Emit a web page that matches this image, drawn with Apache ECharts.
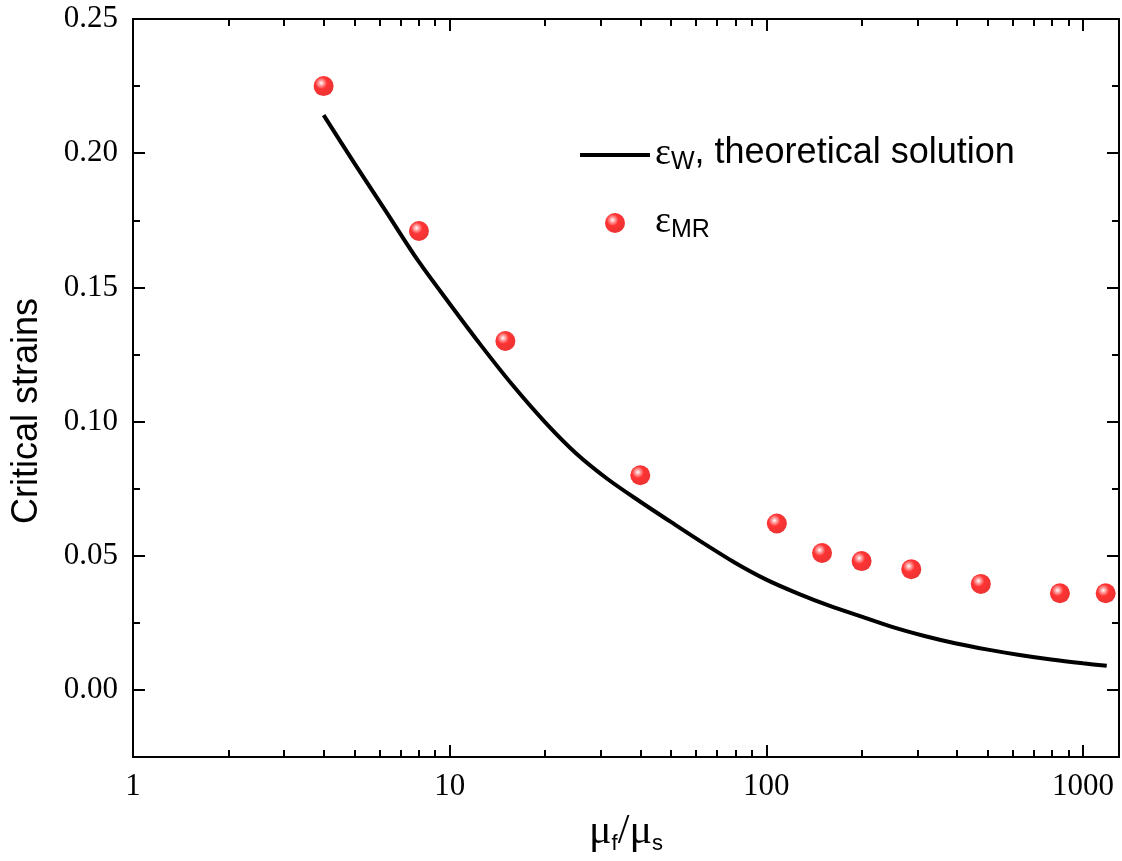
<!DOCTYPE html>
<html>
<head>
<meta charset="utf-8">
<script src="https://cdn.jsdelivr.net/npm/echarts@6/dist/echarts.min.js"></script>
<style>
html,body{margin:0;padding:0;background:#fff;}
#chart{width:1122px;height:861px;}
</style>
</head>
<body>
<div id="chart"></div>
<script>
// ---- data ----
const lineX = [4, 5, 6.3, 7.9, 10, 12.6, 15.8, 20, 25.1, 31.6, 39.8, 50.1, 63.1, 79.4, 100, 126, 158, 200, 251, 316, 398, 501, 631, 794, 1000, 1189];
const lineY = [0.2142, 0.1963, 0.1782, 0.1604, 0.1439, 0.1282, 0.1136, 0.0998, 0.0881, 0.0785, 0.0703, 0.0625, 0.0548, 0.0475, 0.0411, 0.0359, 0.0314, 0.0273, 0.0234, 0.0201, 0.0173, 0.0150, 0.0130, 0.0113, 0.0099, 0.0090];
const scatterX = [4, 8, 15, 40, 108, 150, 200, 287, 476, 846, 1180];
const scatterY = [0.225, 0.171, 0.130, 0.080, 0.062, 0.051, 0.048, 0.045, 0.0395, 0.036, 0.036];
const xMajor = [1, 10, 100, 1000];
const xMinor = [2,3,4,5,6,7,8,9,20,30,40,50,60,70,80,90,200,300,400,500,600,700,800,900];
const yMajor = [0, 0.05, 0.10, 0.15, 0.20, 0.25];
const yMinor = [0.025, 0.075, 0.125, 0.175, 0.225];

const X_MIN = 1, X_MAX = 1300, Y_MIN = -0.025, Y_MAX = 0.25;
const serif = "'Liberation Serif','Times New Roman',serif";
const sans = "'Liberation Sans',Arial,sans-serif";

function xAx(pos, ticks, len, labels, showLine) {
  return {
    type: 'log', logBase: 10, min: X_MIN, max: X_MAX, position: pos,
    axisLine: {show: showLine, onZero: false, lineStyle: {color: '#000', width: 2}},
    axisTick: {show: true, inside: true, length: len, customValues: ticks, lineStyle: {color: '#000', width: 2}},
    axisLabel: labels ? {show: true, customValues: xMajor, color: '#000', fontFamily: serif, fontSize: 31, margin: 14, formatter: v => String(v)} : {show: false},
    splitLine: {show: false}, minorTick: {show: false}
  };
}
function yAx(pos, ticks, len, labels, showLine) {
  return {
    type: 'value', min: Y_MIN, max: Y_MAX, position: pos,
    axisLine: {show: showLine, onZero: false, lineStyle: {color: '#000', width: 2}},
    axisTick: {show: true, inside: true, length: len, customValues: ticks, lineStyle: {color: '#000', width: 2}},
    axisLabel: labels ? {show: true, customValues: yMajor, color: '#000', fontFamily: serif, fontSize: 31, margin: 15, formatter: v => v.toFixed(2)} : {show: false},
    splitLine: {show: false}
  };
}

const xAxes = [xAx('bottom', xMajor, 12, true, true), xAx('bottom', xMinor, 7, false, false), xAx('top', xMajor, 12, false, true), xAx('top', xMinor, 7, false, false)];
xAxes[0].name = '{mu|μ}{sb|f}{mu|/μ}{sb|s}';
xAxes[0].nameLocation = 'middle';
xAxes[0].nameGap = 54;
xAxes[0].nameTextStyle = {rich: {
  mu: {fontFamily: serif, fontSize: 42, color: '#000', lineHeight: 44, verticalAlign: 'top'},
  sb: {fontFamily: sans, fontSize: 22, color: '#000', lineHeight: 22, padding: [26, 0, 0, 0], verticalAlign: 'bottom'}
}};
const yAxes = [yAx('left', yMajor, 12, true, true), yAx('left', yMinor, 7, false, false), yAx('right', yMajor, 12, false, true), yAx('right', yMinor, 7, false, false)];
yAxes[0].name = 'Critical strains';
yAxes[0].nameLocation = 'middle';
yAxes[0].nameRotate = 90;
yAxes[0].nameGap = 88;
yAxes[0].nameTextStyle = {fontFamily: sans, fontSize: 36, color: '#000', padding: [0, 46, 0, 0]};

const ballColor = {
  type: 'radial', x: 0.38, y: 0.35, r: 0.65,
  colorStops: [
    {offset: 0, color: '#ffffff'},
    {offset: 0.18, color: '#ff9090'},
    {offset: 0.45, color: '#ff0000'},
    {offset: 1, color: '#e80000'}
  ]
};

const chart = echarts.init(document.getElementById('chart'), null, {renderer: 'canvas'});
chart.setOption({
  animation: false,
  backgroundColor: '#fff',
  grid: {left: 133, right: 3, top: 19, bottom: 104, containLabel: false, outerBoundsMode: 'none'},
  xAxis: xAxes,
  yAxis: yAxes,
  legend: {
    orient: 'vertical', left: 575, top: 121, itemWidth: 70, itemHeight: 20, itemGap: 19,
    data: [{name: 'w', icon: 'path://M0,0 L70,0 L70,4 L0,4 Z', itemStyle: {color: '#000'}}, {name: 'mr'}],
    formatter: n => n === 'w' ? '{e|ε}{s|W}{t|, theoretical solution}' : '{e|ε}{s|MR}',
    textStyle: {
      color: '#000',
      rich: {
        e: {fontFamily: serif, fontSize: 38, color: '#000', lineHeight: 40, verticalAlign: 'top'},
        t: {fontFamily: sans, fontSize: 36, color: '#000', lineHeight: 40, verticalAlign: 'top'},
        s: {fontFamily: sans, fontSize: 25, color: '#000', lineHeight: 24, padding: [24, 0, 0, 0], verticalAlign: 'bottom'}
      }
    }
  },
  series: [
    {
      name: 'w', type: 'line', xAxisIndex: 0, yAxisIndex: 0,
      data: lineX.map((x, i) => [x, lineY[i]]),
      smooth: 0.3, symbol: 'none', showSymbol: false,
      lineStyle: {color: '#000', width: 4}, itemStyle: {color: '#000'}
    },
    {
      name: 'mr', type: 'scatter', xAxisIndex: 0, yAxisIndex: 0,
      data: scatterX.map((x, i) => [x, scatterY[i]]),
      symbol: 'circle', symbolSize: 20,
      itemStyle: {color: ballColor}, z: 3
    }
  ]
});
</script>
</body>
</html>
